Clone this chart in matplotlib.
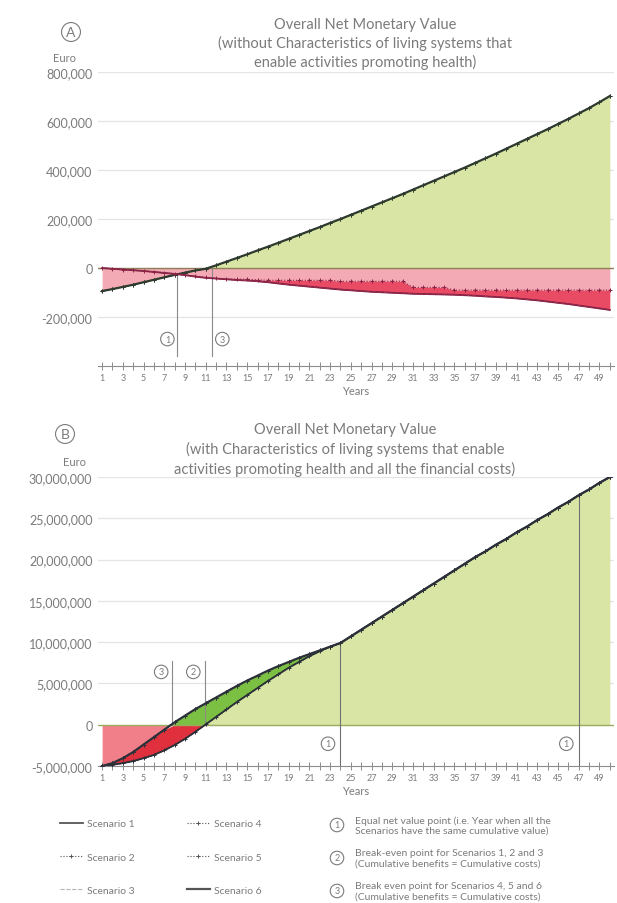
#----Modules----#
import numpy as np
import matplotlib
matplotlib.use('Agg')
import matplotlib.pyplot as plt
from matplotlib.lines import Line2D

plt.rcParams['font.family'] = ['Lato', 'DejaVu Sans']

#----Data: cumulative net monetary value per year (Euro)----#
years = list(range(1, 51))

# chart A, thousands of Euro
a_rising = [-94, -86, -77, -68, -58, -48, -38, -28, -19, -10,
            -3, 11, 26, 41, 56, 72, 87, 103, 119, 135,
            151, 167, 184, 200, 217, 234, 251, 268, 285, 302,
            320, 338, 356, 374, 392, 410, 429, 448, 467, 487,
            507, 527, 547, 567, 588, 609, 631, 653, 677, 702]   # scenarios 4, 5, 6
a_falling_top = [0, -3, -6, -9, -12, -16, -20, -24, -28, -33,
                 -38, -42, -44, -45, -46, -48, -50, -50, -50, -50,
                 -50, -50, -50, -54, -54, -54, -54, -54, -54, -54,
                 -79, -79, -79, -79, -90, -90, -90, -90, -90, -90,
                 -90, -90, -90, -90, -90, -90, -90, -90, -90, -90]  # scenario 2
a_falling_low = [0, -3, -6, -9, -12, -16, -20, -24, -29, -35,
                 -40, -43, -46, -49, -51, -54, -58, -63, -68, -72,
                 -76, -80, -84, -88, -91, -94, -97, -99, -101, -103,
                 -105, -106, -107, -108, -109, -111, -113, -116, -118, -121,
                 -124, -128, -132, -137, -142, -147, -153, -159, -165, -171]  # scenarios 1, 3

# chart B, millions of Euro
b_tail = [10.7, 11.5, 12.3, 13.1, 13.9, 14.7, 15.5, 16.3, 17.1, 17.9,
          18.7, 19.5, 20.3, 21.0, 21.8, 22.5, 23.3, 24.0, 24.8, 25.5,
          26.3, 27.0, 27.8, 28.5, 29.3, 30.0]   # years 25-50, all scenarios
b_fast = [-5.0, -4.65, -4.05, -3.3, -2.4, -1.5, -0.6, 0.3, 1.1, 1.9,
          2.6, 3.3, 4.0, 4.7, 5.35, 5.95, 6.55, 7.1, 7.6, 8.1,
          8.55, 9.0, 9.45, 9.9] + b_tail          # scenarios 4, 5, 6
b_slow = [-5.0, -4.85, -4.65, -4.4, -4.05, -3.65, -3.1, -2.45, -1.7, -0.85,
          0.05, 0.95, 1.85, 2.75, 3.6, 4.45, 5.3, 6.1, 6.9, 7.6,
          8.3, 8.9, 9.45, 9.9] + b_tail           # scenarios 1, 2, 3

a_yticks = [-200000, 0, 200000, 400000, 600000, 800000]
b_yticks = [-5000000, 0, 5000000, 10000000, 15000000, 20000000, 25000000, 30000000]

#----Colours----#
txt = '#7b7b7b'
grid_c = '#e4e4e4'
light_green = '#d8e5a5'
bright_green = '#7cc043'
pink_a = '#f4aab4'
red_a = '#e94a64'
pink_b = '#f07f89'
red_b = '#e0303d'

scen_styles = {
    1: dict(ls='-', lw=1.3, marker=None),
    2: dict(ls=':', lw=0.8, marker='+'),
    3: dict(ls='--', lw=0.8, marker=None),
    4: dict(ls=':', lw=0.8, marker='+'),
    5: dict(ls=':', lw=0.8, marker='+'),
    6: dict(ls='-', lw=1.6, marker=None),
}


def draw_scenario(ax, x, y, n, color):
    st = scen_styles[n]
    ax.plot(x, y, linestyle=st['ls'], lw=st['lw'], marker=st['marker'],
            ms=3.5, mew=0.7, color=color, zorder=5)


def style_axes(ax, yticks, ymin, ymax, gridlines):
    ax.set_xlim(0.6, 50.4)
    ax.set_ylim(ymin, ymax)
    for s in ['top', 'right', 'left']:
        ax.spines[s].set_visible(False)
    ax.spines['bottom'].set_color('#8c8c8c')
    ax.spines['bottom'].set_linewidth(0.8)
    ax.set_xticks(years)
    ax.set_xticklabels([str(y) if y % 2 == 1 else '' for y in years])
    ax.tick_params(axis='x', direction='inout', length=6, width=0.7,
                   colors='#8c8c8c', labelsize=6.5, labelcolor=txt, pad=2)
    ax.set_yticks(yticks)
    ax.set_yticklabels([f'{v:,}' for v in yticks])
    ax.tick_params(axis='y', length=0, labelsize=9, labelcolor=txt, pad=4)
    for g in gridlines:
        ax.axhline(g, color=grid_c, lw=0.9, zorder=0)
    ax.set_xlabel('Years', color=txt, fontsize=8, labelpad=2)


def circled(ax_or_fig, xpos, ypos, label, size=8, **kw):
    # letter or digit inside a thin outlined circle
    ax_or_fig.text(xpos, ypos, label, ha='center', va='center', fontsize=size, color=txt,
                   bbox=dict(boxstyle='circle,pad=0.25', fc='none', ec=txt, lw=0.8), **kw)


fig = plt.figure(figsize=(6.17, 9.04), dpi=100)

#----Chart A----#
axA = fig.add_axes([0.1588, 0.594, 0.8363, 0.3252])
x = np.array(years)
rise = np.array(a_rising) * 1000
top = np.array(a_falling_top) * 1000
low = np.array(a_falling_low) * 1000

axA.fill_between(x, 0, rise, where=rise >= 0, interpolate=True, color=light_green, lw=0, zorder=1)
axA.fill_between(x, 0, rise, where=rise <= 0, interpolate=True, color=pink_a, lw=0, zorder=1)
axA.fill_between(x, 0, top, color=pink_a, lw=0, zorder=1)
axA.fill_between(x, top, low, color=red_a, lw=0, zorder=2)
axA.axhline(0, color='#8f7f58', lw=1.0, zorder=3)

for n in [4, 5, 6]:
    draw_scenario(axA, x, rise, n, '#2f3a2f')
draw_scenario(axA, x, low, 1, '#7c1e42')
draw_scenario(axA, x, low, 3, '#9a3050')
draw_scenario(axA, x, top, 2, '#8a2346')

style_axes(axA, a_yticks, -400000, 800000, [-200000, 200000, 400000, 600000, 800000])

# equal net value point and break-even markers
axA.plot([8.2, 8.2], [-25000, -360000], color='#8a8a8a', lw=0.8, zorder=4)
axA.plot([11.6, 11.6], [0, -360000], color='#8a8a8a', lw=0.8, zorder=4)
circled(axA, 7.3, -290000, '1', size=6.5)
circled(axA, 12.6, -290000, '3', size=6.5)

#----Chart B----#
axB = fig.add_axes([0.1588, 0.1515, 0.8363, 0.3197])
fast = np.array(b_fast) * 1e6
slow = np.array(b_slow) * 1e6

axB.fill_between(x, 0, slow, where=slow >= 0, interpolate=True, color=light_green, lw=0, zorder=1)
axB.fill_between(x, np.maximum(slow, 0), fast, where=fast >= 0, interpolate=True,
                 color=bright_green, lw=0, zorder=1)
axB.fill_between(x, fast, 0, where=fast <= 0, interpolate=True, color=pink_b, lw=0, zorder=1)
axB.fill_between(x, slow, np.minimum(fast, 0), where=slow <= 0, interpolate=True,
                 color=red_b, lw=0, zorder=1)
axB.axhline(0, color='#9aab60', lw=1.0, zorder=3)

for n in [1, 2, 3]:
    draw_scenario(axB, x, slow, n, '#2c3038')
for n in [4, 5, 6]:
    draw_scenario(axB, x, fast, n, '#2c3038')

style_axes(axB, b_yticks, -5000000, 30000000,
           [5000000, 10000000, 15000000, 20000000, 25000000, 30000000])

axB.plot([7.7, 7.7], [0, 7.7e6], color='#8a8a8a', lw=0.8, zorder=4)
axB.plot([10.9, 10.9], [0, 7.7e6], color='#8a8a8a', lw=0.8, zorder=4)
circled(axB, 6.7, 6.4e6, '3', size=6.5)
circled(axB, 9.8, 6.4e6, '2', size=6.5)
axB.plot([24.0, 24.0], [9.9e6, -5e6], color='#707070', lw=0.8, zorder=4)
axB.plot([47.0, 47.0], [27.8e6, -5e6], color='#707070', lw=0.8, zorder=4)
circled(axB, 22.8, -2.3e6, '1', size=6.5)
circled(axB, 45.8, -2.3e6, '1', size=6.5)

#----Titles and labels----#
fig.text(365 / 617, 1 - 44 / 904,
         'Overall Net Monetary Value\n(without Characteristics of living systems that\n'
         'enable activities promoting health)',
         ha='center', va='center', fontsize=10.5, color=txt, linespacing=1.3)
fig.text(345 / 617, 1 - 450 / 904,
         'Overall Net Monetary Value\n(with Characteristics of living systems that enable\n'
         'activities promoting health and all the financial costs)',
         ha='center', va='center', fontsize=10.5, color=txt, linespacing=1.45)
circled(fig, 71 / 617, 1 - 33 / 904, 'A', size=10)
circled(fig, 65 / 617, 1 - 435 / 904, 'B', size=10)
fig.text(64 / 617, 1 - 58 / 904, 'Euro', ha='center', va='center', fontsize=8, color=txt)
fig.text(74 / 617, 1 - 463 / 904, 'Euro', ha='center', va='center', fontsize=8, color=txt)

#----Legend----#
handles = []
for n in range(1, 7):
    st = scen_styles[n]
    col = '#b5b5b5' if n == 3 else '#555555'
    handles.append(Line2D([], [], linestyle=st['ls'], lw=st['lw'], marker=st['marker'],
                          ms=3.5, mew=0.7, color=col, markevery=[1, 2, 3] if st['marker'] else None))
fig.legend(handles, [f'Scenario {n}' for n in range(1, 7)], ncol=2, frameon=False,
           loc='upper left', bbox_to_anchor=(60 / 617, 1 - 820 / 904),
           fontsize=7.5, labelcolor=txt, handlelength=2.2, handletextpad=0.4,
           labelspacing=2.3, columnspacing=5.0, borderpad=0, borderaxespad=0)

notes = [
    ('1', 'Equal net value point (i.e. Year when all the\nScenarios have the same cumulative value)', 826),
    ('2', 'Break-even point for Scenarios 1, 2 and 3\n(Cumulative benefits = Cumulative costs)', 859),
    ('3', 'Break even point for Scenarios 4, 5 and 6\n(Cumulative benefits = Cumulative costs)', 892),
]
for sym, note, ypix in notes:
    circled(fig, 337 / 617, 1 - ypix / 904, sym, size=6.5)
    fig.text(355 / 617, 1 - ypix / 904, note, ha='left', va='center', fontsize=7.5,
             color=txt, linespacing=1.2)

fig.savefig('out.png', dpi=100)
